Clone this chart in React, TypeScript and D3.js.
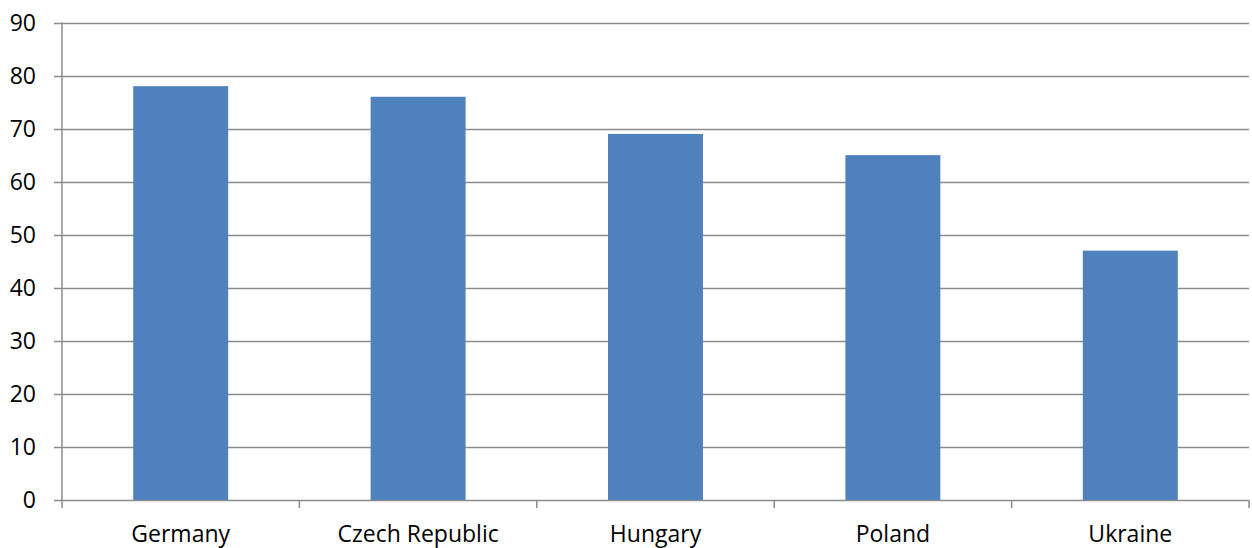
import React from "react";
import * as d3 from "d3";

const categories = ["Germany", "Czech Republic", "Hungary", "Poland", "Ukraine"];
const values = [78, 76, 69, 65, 47];
const yTicks = [0, 10, 20, 30, 40, 50, 60, 70, 80, 90];

const W = 1252;
const H = 548;
const margin = { left: 62, right: 3, top: 22.5, bottom: 48 };

export default function App() {
  const x = d3
    .scaleBand<string>()
    .domain(categories)
    .range([margin.left, W - margin.right])
    .paddingInner(0.6)
    .paddingOuter(0.3);
  const y = d3.scaleLinear().domain([0, 90]).range([H - margin.bottom, margin.top]);
  const step = x.step();
  const bandStarts = categories.map((_, i) => margin.left + i * step);
  const font = "'Open Sans', sans-serif";
  const grid = "#8c8c8c";

  return (
    <svg
      width={W}
      height={H}
      style={{ position: "absolute", left: 0, top: 0, background: "#fff" }}
    >
      {yTicks.map((t) => (
        <g key={t}>
          <line x1={margin.left - 8} x2={W - margin.right} y1={Math.round(y(t)) + 0.5} y2={Math.round(y(t)) + 0.5} stroke={grid} strokeWidth={1.5} />
          <text x={36} y={y(t)} dy="0.35em" textAnchor="end" fontFamily={font} fontSize={23} fill="#000">
            {t}
          </text>
        </g>
      ))}
      <line x1={margin.left} x2={margin.left} y1={y(90)} y2={y(0)} stroke={grid} strokeWidth={1.5} />
      {[...bandStarts, W - margin.right].map((bx, i) => (
        <line key={i} x1={bx} x2={bx} y1={y(0)} y2={y(0) + 8} stroke={grid} strokeWidth={1.5} />
      ))}
      {categories.map((c, i) => (
        <rect key={c} x={x(c)} y={y(values[i])} width={x.bandwidth()} height={y(0) - y(values[i])} fill="#4f81bd" />
      ))}
      {categories.map((c) => (
        <text key={c} x={(x(c) as number) + x.bandwidth() / 2} y={542} textAnchor="middle" fontFamily={font} fontSize={23} fill="#000">
          {c}
        </text>
      ))}
    </svg>
  );
}
